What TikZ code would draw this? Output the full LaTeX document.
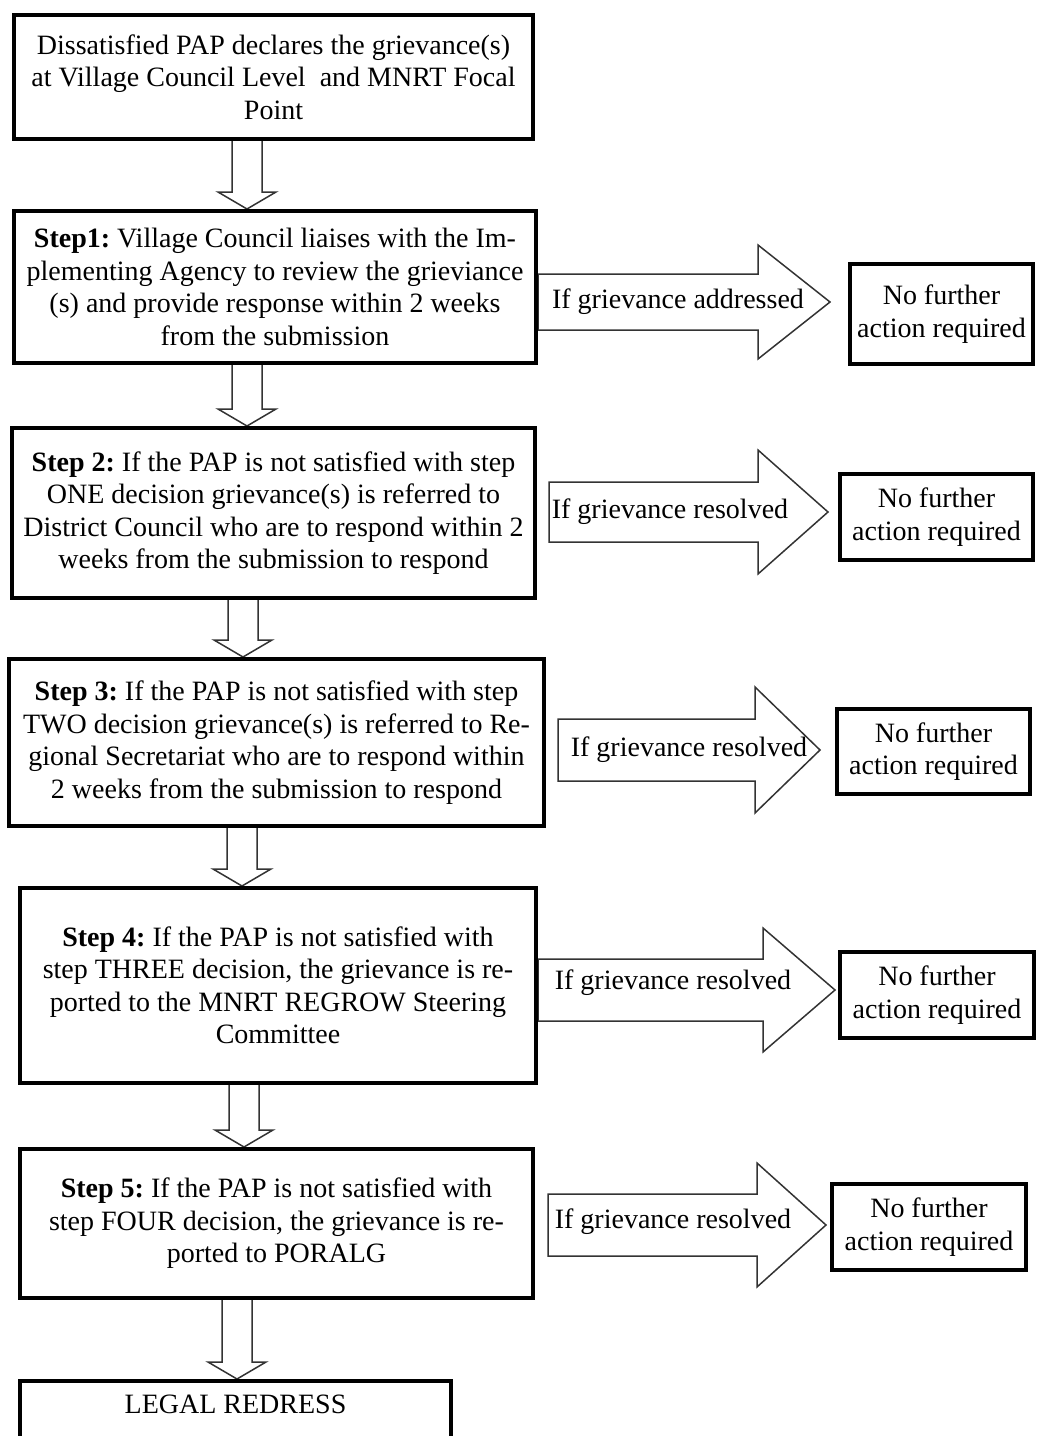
\documentclass[tikz,border=0pt]{standalone}
\usepackage{fontspec}
\setmainfont{Liberation Serif}
\frenchspacing
\usetikzlibrary{calc,backgrounds}
\tikzset{
  stepbox/.style={draw=black, line width=4pt, inner sep=0pt, align=center,
    font=\fontsize{28}{32.5}\selectfont},
  blockarrow/.style={draw=black!80, line width=1.5pt, line join=miter, fill=white},
  lbl/.style={inner sep=0pt, font=\fontsize{28}{32.5}\selectfont},
}
% down block arrow: x centre, upper node, lower node
\newcommand{\myDown}[3]{%
  \draw[blockarrow] let \p1=(#2.south), \p2=(#3.north) in
   (#1pt-15pt,\y1) -- (#1pt-15pt,\y2+17pt) -- (#1pt-29pt,\y2+17pt) -- (#1pt,\y2)
   -- (#1pt+29pt,\y2+17pt) -- (#1pt+15pt,\y2+17pt) -- (#1pt+15pt,\y1);}
% right block arrow: box, result, gapstart, gapend, headlen, y, half shaft, half head
\newcommand{\myRight}[8]{%
  \draw[blockarrow] let \p1=(#1.east), \p2=(#2.west) in
   (\x1+#3pt,-#6pt+#7pt) -- (\x2-#4pt-#5pt,-#6pt+#7pt) -- (\x2-#4pt-#5pt,-#6pt+#8pt)
   -- (\x2-#4pt,-#6pt) -- (\x2-#4pt-#5pt,-#6pt-#8pt) -- (\x2-#4pt-#5pt,-#6pt-#7pt)
   -- (\x1+#3pt,-#6pt-#7pt) -- cycle;}
\begin{document}
\begin{tikzpicture}[x=1pt,y=-1pt]
\useasboundingbox (0,0) rectangle (1038,1436);
\clip (0,0) rectangle (1038,1436);

% main column
\node[stepbox, minimum width=519, minimum height=124] (b0) at (273.5,77)
  {Dissatisfied PAP declares the grievance(s)\\at Village Council Level~ and MNRT Focal\\Point};
\node[stepbox, minimum width=522, minimum height=152] (b1) at (275,287)
  {\textbf{Step1:} Village Council liaises with the Im-\\plementing Agency to review the grieviance\\(s) and provide response within 2 weeks\\from the submission};
\node[stepbox, minimum width=523, minimum height=170] (b2) at (273.5,513)
  {\textbf{Step 2:} If the PAP is not satisfied with step\\ONE decision grievance(s) is referred to\\District Council who are to respond within 2\\weeks from the submission to respond};
\node[stepbox, minimum width=535, minimum height=167] (b3) at (276.5,742.5)
  {\textbf{Step 3:} If the PAP is not satisfied with step\\TWO decision grievance(s) is referred to Re-\\gional Secretariat who are to respond within\\2 weeks from the submission to respond};
\node[stepbox, minimum width=516, minimum height=195] (b4) at (278,985.5)
  {\textbf{Step 4:} If the PAP is not satisfied with\\step THREE decision, the grievance is re-\\ported to the MNRT REGROW Steering\\Committee};
\node[stepbox, minimum width=513, minimum height=149] (b5) at (276.5,1223.5)
  {\textbf{Step 5:} If the PAP is not satisfied with\\step FOUR decision, the grievance is re-\\ported to PORALG};
\node[stepbox, minimum width=431, minimum height=120, anchor=north] (b6) at (235.5,1379) {};
\node[lbl] (b6t) at (235.5,1404) {LEGAL REDRESS};

% result boxes
\node[stepbox, minimum width=183, minimum height=100] (r1) at (941.5,314) {No further\\action required};
\node[stepbox, minimum width=193, minimum height=86] (r2) at (936.5,517) {No further\\action required};
\node[stepbox, minimum width=193, minimum height=85] (r3) at (933.5,751.5) {No further\\action required};
\node[stepbox, minimum width=194, minimum height=86] (r4) at (937,995) {No further\\action required};
\node[stepbox, minimum width=194, minimum height=86] (r5) at (929,1227) {No further\\action required};

\begin{pgfonlayer}{background}
  \myDown{247}{b0}{b1}
  \myDown{247}{b1}{b2}
  \myDown{243}{b2}{b3}
  \myDown{242}{b3}{b4}
  \myDown{244}{b4}{b5}
  \myDown{237}{b5}{b6}
  \myRight{b1}{r1}{0}{18}{72}{302}{28}{57}
  \myRight{b2}{r2}{12}{10}{70}{512}{30}{62}
  \myRight{b3}{r3}{12}{15}{65}{750}{31}{63}
  \myRight{b4}{r4}{0}{3}{72}{990}{31}{62}
  \myRight{b5}{r5}{13}{4}{69}{1225}{31}{62}
\end{pgfonlayer}

% arrow labels
\node[lbl] (l1) at (678,302) {If grievance addressed};
\node[lbl] (l2) at (670,512) {If grievance resolved};
\node[lbl] (l3) at (689,750) {If grievance resolved};
\node[lbl] (l4) at (673,983) {If grievance resolved};
\node[lbl] (l5) at (673,1222) {If grievance resolved};
\end{tikzpicture}
\end{document}
